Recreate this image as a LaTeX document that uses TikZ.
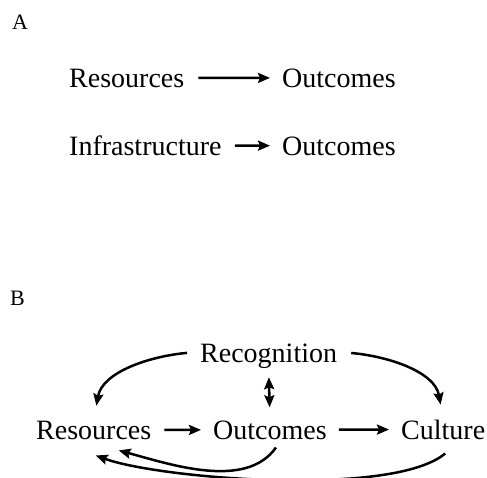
\documentclass[tikz,border=0pt]{standalone}
\usepackage{fontspec}
\setmainfont{Liberation Serif}
\usetikzlibrary{arrows.meta,calc}

\begin{document}
\begin{tikzpicture}[
        x=1pt,y=-1pt,
        >={Stealth[length=12pt,width=10pt,inset=2pt]},
        panel/.style={anchor=base west,inner sep=0pt,font=\fontsize{22}{26}\selectfont},
        term/.style={anchor=base west,inner sep=0pt,font=\fontsize{28}{34}\selectfont},
        link/.style={->,line width=2.5pt,shorten <=13pt,shorten >=12pt}
    ]
        \useasboundingbox (0,0) rectangle (487,477);

        % panel A
        \node[panel] (labA) at (12,29) {A};
        \node[term] (res1) at (69,87) {Resources};
        \node[term] (out1) at (282,87) {Outcomes};
        \node[term] (infra) at (69,155) {Infrastructure};
        \node[term] (out1b) at (282,155) {Outcomes};

        \draw[link,shorten <=14pt] (res1) -- (out1);
        \draw[link] (infra) -- (out1b);

        % panel B
        \node[panel] (labB) at (10,305) {B};
        \node[term] (rec) at (200,362) {Recognition};
        \node[term] (res2) at (36,439) {Resources};
        \node[term] (out2) at (213,439) {Outcomes};
        \node[term] (cul) at (401,439) {Culture};

        \draw[link] (res2) -- (out2);
        \draw[link,shorten <=12pt] (out2) -- (cul);
        \draw[link,<->,shorten <=9pt,shorten >=13pt] (rec.south) -- (out2.north);
        \draw[link,shorten >=15pt] ([yshift=4pt]rec.west) to[out=185,in=80] (res2.north);
        \draw[link,shorten <=14pt,shorten >=15pt] ([yshift=4pt]rec.east) to[out=-5,in=100] (cul.north);
        \draw[link,shorten <=0pt,shorten >=0pt] ($(out2.south)+(6,8)$) to[out=-125,in=-15,looseness=0.85] ($(res2.south)+(25,11)$);
        \draw[link,shorten <=0pt,shorten >=0pt] ($(cul.south)+(2,14)$) to[out=-140,in=-20,looseness=0.5] ($(res2.south)+(2,16)$);
    \end{tikzpicture}
\end{document}
